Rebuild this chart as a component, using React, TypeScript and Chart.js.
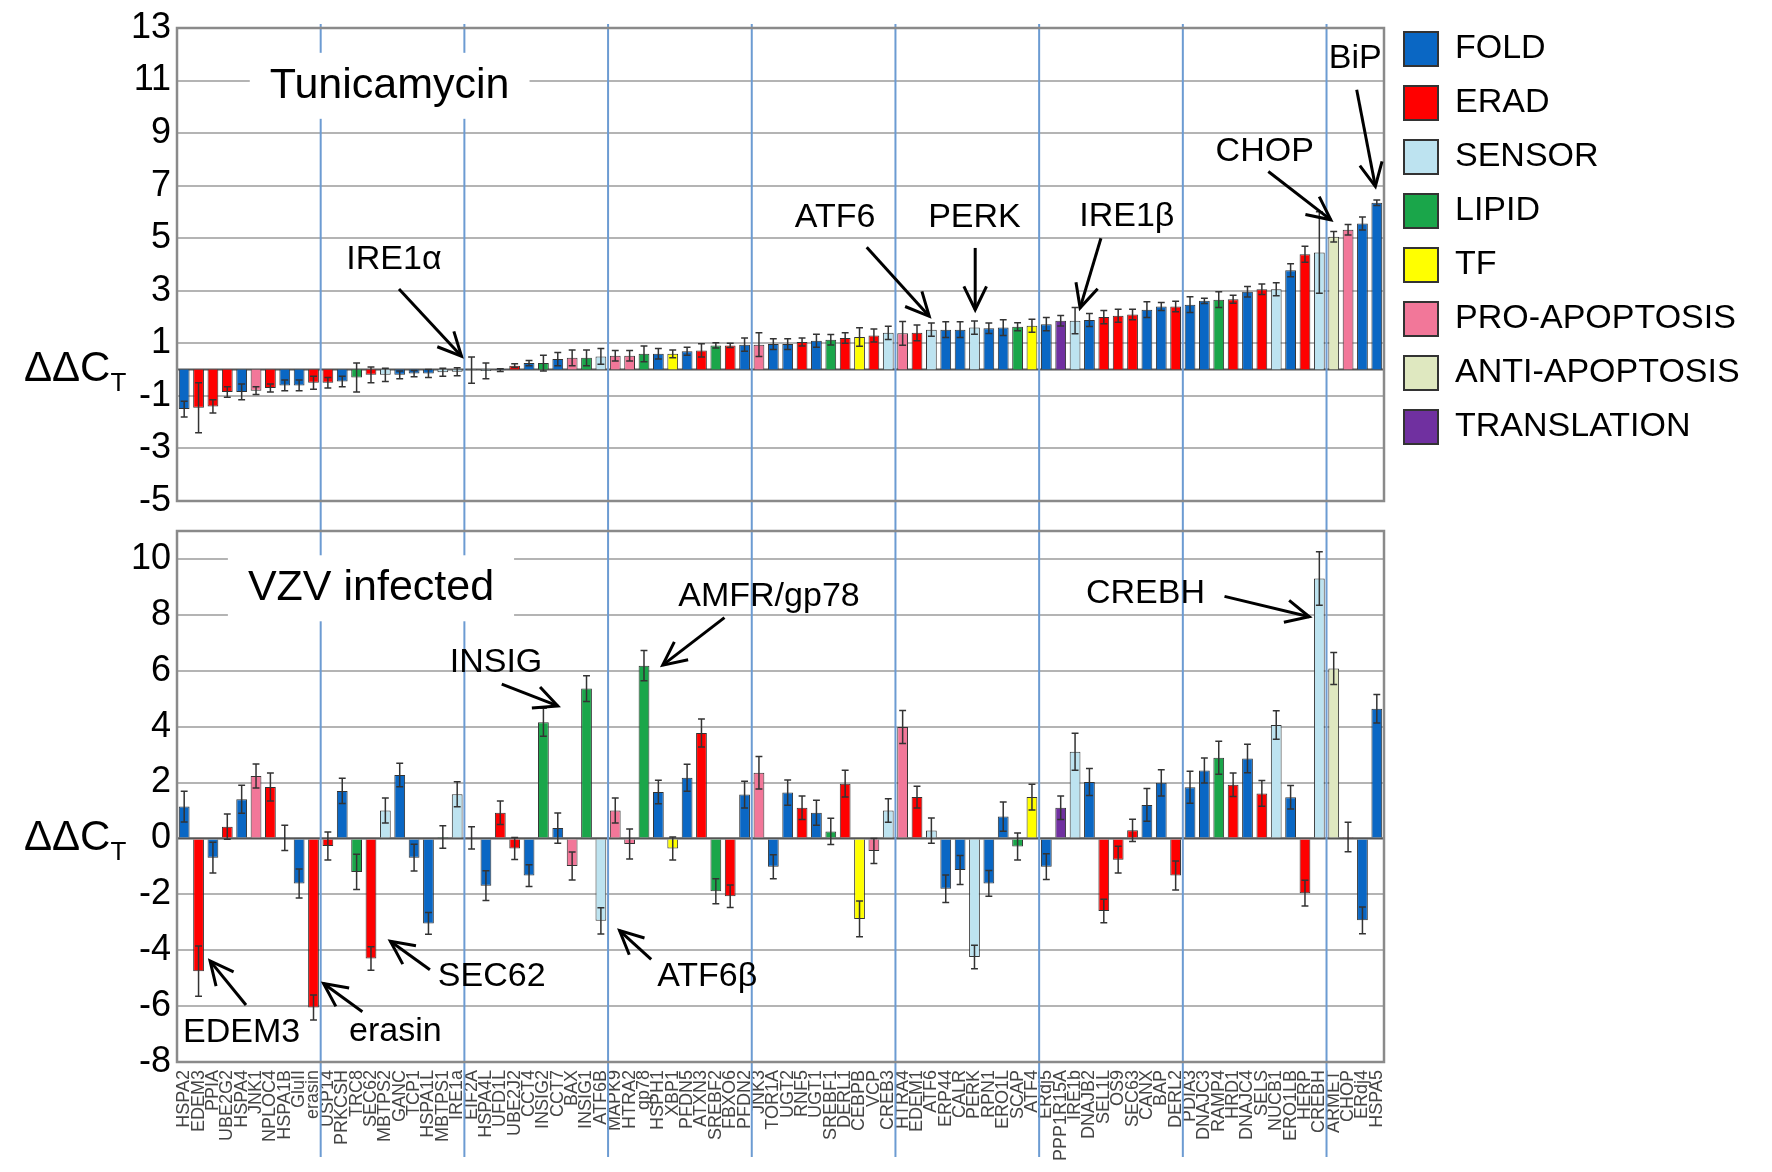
import { useEffect, useRef } from "react";
import { Chart, registerables } from "chart.js";

Chart.register(...registerables);

const FONT = "'Liberation Sans', Arial, sans-serif";
const W = 1772;
const TOP_H = 516;
const BOT_H = 656;
const AXIS_W = 177;
const PLOT_RIGHT = 1384;

// functional groups (legend order) and their colours
const groupCodes = ["F", "E", "S", "L", "T", "P", "A", "R"];
const groupNames = ["FOLD", "ERAD", "SENSOR", "LIPID", "TF", "PRO-APOPTOSIS", "ANTI-APOPTOSIS", "TRANSLATION"];
const groupColors = ["#0a67c4", "#ff0000", "#bde3f0", "#1aa64a", "#ffff00", "#f27799", "#dfe8c0", "#7030a0"];

// Tunicamycin panel (sorted by value, no labels)
const topValues = [
  -1.5, -1.45, -1.4, -0.85, -0.85, -0.8, -0.7, -0.6, -0.6, -0.5,
  -0.5, -0.45, -0.3, -0.2, -0.2, -0.2, -0.15, -0.15, -0.1, -0.08,
  -0.02, -0.05, -0.02, 0.15, 0.25, 0.25, 0.4, 0.45, 0.45, 0.5,
  0.53, 0.53, 0.6, 0.6, 0.6, 0.7, 0.73, 0.92, 0.92, 0.95,
  0.95, 0.97, 0.97, 1.05, 1.1, 1.14, 1.2, 1.24, 1.3, 1.4,
  1.38, 1.4, 1.52, 1.52, 1.52, 1.6, 1.57, 1.6, 1.63, 1.67,
  1.73, 1.86, 1.86, 1.89, 2.0, 2.05, 2.1, 2.28, 2.4, 2.4,
  2.47, 2.62, 2.66, 2.68, 2.96, 3.06, 3.06, 3.78, 4.39, 4.46,
  5.06, 5.32, 5.56, 6.35,
];
const topErrors = [
  0.3, 0.95, 0.25, 0.2, 0.3, 0.15, 0.15, 0.2, 0.2, 0.25,
  0.2, 0.2, 0.55, 0.3, 0.25, 0.15, 0.12, 0.15, 0.15, 0.15,
  0.5, 0.3, 0.05, 0.07, 0.1, 0.3, 0.25, 0.3, 0.3, 0.3,
  0.2, 0.2, 0.3, 0.2, 0.15, 0.15, 0.25, 0.1, 0.08, 0.25,
  0.45, 0.2, 0.2, 0.15, 0.25, 0.2, 0.2, 0.35, 0.25, 0.25,
  0.45, 0.3, 0.25, 0.3, 0.3, 0.25, 0.2, 0.3, 0.15, 0.25,
  0.25, 0.2, 0.5, 0.25, 0.25, 0.25, 0.2, 0.3, 0.15, 0.2,
  0.3, 0.1, 0.3, 0.15, 0.2, 0.2, 0.25, 0.25, 0.3, 1.55,
  0.2, 0.2, 0.25, 0.1,
];
const topGroups = (
  "FEEEFPEFFE" + "EFLESFFFSS" + "SSFEFLFPLS" + "PPLFTFELEF" + "PFFEFLETES" +
  "PESFFSFFLT" + "FRSFEEEFFE" + "FFLEFESFES" + "APFF"
).split("");

// VZV panel
const genes = [
  "HSPA2", "EDEM3", "PPIA", "UBE2G2", "HSPA4", "JNK1", "NPLOC4", "HSPA1B", "GluII", "erasin",
  "USP14", "PRKCSH", "TRC8", "SEC62", "MBTPS2", "GANC", "TCP1", "HSPA1L", "MBTPS1", "IRE1a",
  "EIF2A", "HSPA4L", "UFD1L", "UBE2J2", "CCT4", "INSIG2", "CCT7", "BAX", "INSIG1", "ATF6B",
  "MAPK9", "HTRA2", "gp78", "HSPH1", "XBP1", "PFDN5", "ATXN3", "SREBF2", "FBXO6", "PFDN2",
  "JNK3", "TOR1A", "UGT2", "RNF5", "UGT1", "SREBF1", "DERL1", "CEBPB", "VCP", "CREB3",
  "HTRA4", "EDEM1", "ATF6", "ERP44", "CALR", "PERK", "RPN1", "ERO1L", "SCAP", "ATF4",
  "ERdj5", "PPP1R15A", "IRE1b", "DNAJB2", "SEL1L", "OS9", "SEC63", "CANX", "BAP", "DERL2",
  "PDIA3", "DNAJC3", "RAMP4", "HRD1", "DNAJC4", "SELS", "NUCB1", "ERO1LB", "HERP", "CREBH",
  "ARMET", "CHOP", "ERdj4", "HSPA5",
];
const vzvValues = [
  1.14, -4.75, -0.69, 0.42, 1.4, 2.23, 1.84, 0.02, -1.61, -6.05,
  -0.27, 1.7, -1.2, -4.3, 1.0, 2.27, -0.69, -3.04, 0.05, 1.58,
  0.02, -1.69, 0.92, -0.36, -1.33, 4.16, 0.37, -0.99, 5.36, -2.95,
  1.0, -0.2, 6.18, 1.66, -0.36, 2.17, 3.77, -1.89, -2.07, 1.57,
  2.35, -1.01, 1.64, 1.1, 0.92, 0.25, 1.96, -2.88, -0.45, 1.0,
  3.99, 1.48, 0.28, -1.8, -1.13, -4.24, -1.61, 0.78, -0.29, 1.48,
  -1.01, 1.1, 3.1, 2.02, -2.6, -0.76, 0.29, 1.2, 1.99, -1.33,
  1.83, 2.43, 2.89, 1.92, 2.86, 1.61, 4.06, 1.47, -1.96, 9.3,
  6.08, 0.05, -2.93, 4.64,
];
const vzvErrors = [
  0.55, 0.9, 0.55, 0.45, 0.5, 0.43, 0.5, 0.45, 0.52, 0.45,
  0.5, 0.45, 0.63, 0.42, 0.45, 0.42, 0.48, 0.39, 0.4, 0.45,
  0.4, 0.53, 0.42, 0.39, 0.39, 0.5, 0.54, 0.5, 0.46, 0.47,
  0.45, 0.54, 0.54, 0.42, 0.41, 0.48, 0.5, 0.45, 0.4, 0.48,
  0.58, 0.43, 0.45, 0.42, 0.45, 0.47, 0.48, 0.64, 0.45, 0.42,
  0.59, 0.39, 0.45, 0.49, 0.52, 0.42, 0.46, 0.52, 0.48, 0.46,
  0.46, 0.42, 0.66, 0.48, 0.42, 0.48, 0.4, 0.59, 0.47, 0.52,
  0.57, 0.45, 0.59, 0.42, 0.51, 0.46, 0.51, 0.42, 0.46, 0.96,
  0.57, 0.53, 0.48, 0.51,
];
const vzvGroups = (
  "FEFEFPEFFE" + "EFLESFFFLS" + "RFEEFLFPLS" + "PPLFTFELEF" + "PFFEFLETPS" +
  "PESFFSFFLT" + "FRSFEEEFFE" + "FFLEFESFES" + "APFF"
).split("");

// annotations, in (category index, value) units
const topTitle = { text: "Tunicamycin", x: 14.3, y: 10.8 };
const topNotes = [
  { text: "IRE1α", x: 14.6, y: 4.18 },
  { text: "ATF6", x: 45.3, y: 5.78 },
  { text: "PERK", x: 55.0, y: 5.78 },
  { text: "IRE1β", x: 65.6, y: 5.83 },
  { text: "CHOP", x: 75.2, y: 8.3 },
  { text: "BiP", x: 81.5, y: 11.85 },
];
const topArrows = [
  [14.95, 3.07, 19.3, 0.51],
  [47.5, 4.66, 51.85, 2.03],
  [55.05, 4.63, 55.05, 2.28],
  [63.8, 5.0, 62.35, 2.35],
  [75.45, 7.54, 79.8, 5.7],
  [81.6, 10.65, 82.9, 6.97],
];
const vzvTitle = { text: "VZV infected", x: 13.0, y: 8.95 };
const vzvNotes = [
  { text: "EDEM3", x: 4.0, y: -6.95 },
  { text: "erasin", x: 14.7, y: -6.9 },
  { text: "SEC62", x: 21.4, y: -4.95 },
  { text: "ATF6β", x: 36.4, y: -4.95 },
  { text: "INSIG", x: 21.7, y: 6.3 },
  { text: "AMFR/gp78", x: 40.7, y: 8.65 },
  { text: "CREBH", x: 66.9, y: 8.77 },
];
const vzvArrows = [
  [4.3, -5.96, 1.8, -4.38],
  [12.4, -6.2, 9.7, -5.19],
  [17.1, -4.7, 14.35, -3.68],
  [32.5, -4.33, 30.3, -3.3],
  [22.1, 5.52, 26.0, 4.74],
  [37.6, 7.9, 33.3, 6.2],
  [72.4, 8.66, 78.3, 7.93],
];

const colorOf = (code: string) => groupColors[groupCodes.indexOf(code)];

function drawArrow(ctx: CanvasRenderingContext2D, x1: number, y1: number, x2: number, y2: number) {
  ctx.beginPath();
  ctx.moveTo(x1, y1);
  ctx.lineTo(x2, y2);
  ctx.stroke();
  const ang = Math.atan2(y2 - y1, x2 - x1);
  const L = 26;
  const s = 0.45;
  ctx.beginPath();
  ctx.moveTo(x2 - L * Math.cos(ang - s), y2 - L * Math.sin(ang - s));
  ctx.lineTo(x2, y2);
  ctx.lineTo(x2 - L * Math.cos(ang + s), y2 - L * Math.sin(ang + s));
  ctx.stroke();
}

const panelDecor = {
  id: "panelDecor",
  beforeDatasetsDraw(chart: any, _args: any, o: any) {
    const { ctx, chartArea: a } = chart;
    const x = chart.scales.x;
    const y = chart.scales.y;
    ctx.save();
    const y0 = y.getPixelForValue(0);
    ctx.strokeStyle = "#555";
    ctx.lineWidth = 2;
    ctx.beginPath();
    ctx.moveTo(a.left, y0);
    ctx.lineTo(a.right, y0);
    ctx.stroke();

    ctx.strokeStyle = "#6c9bd2";
    ctx.lineWidth = 2;
    const n = chart.data.labels.length;
    for (let k = 10; k < n; k += 10) {
      const px = (x.getPixelForValue(k - 1) + x.getPixelForValue(k)) / 2;
      ctx.beginPath();
      ctx.moveTo(px, o.lineTop);
      ctx.lineTo(px, o.lineBottom);
      ctx.stroke();
    }

    const t = o.title;
    ctx.font = `43px ${FONT}`;
    const tw = ctx.measureText(t.text).width;
    const cx = x.getPixelForValue(t.x);
    const cy = y.getPixelForValue(t.y);
    ctx.fillStyle = "#fff";
    ctx.fillRect(cx - tw / 2 - 20, cy - 33, tw + 40, 66);
    ctx.fillStyle = "#000";
    ctx.textAlign = "center";
    ctx.textBaseline = "middle";
    ctx.fillText(t.text, cx, cy);
    ctx.restore();
  },
  afterDatasetsDraw(chart: any, _args: any, o: any) {
    const { ctx, chartArea: a } = chart;
    const y = chart.scales.y;
    const meta = chart.getDatasetMeta(0);
    const vals = chart.data.datasets[0].data;
    ctx.save();
    ctx.strokeStyle = "#333";
    ctx.lineWidth = 1.5;
    meta.data.forEach((bar: any, i: number) => {
      const v = vals[i];
      const e = o.errors[i];
      const y1 = y.getPixelForValue(v + e);
      const y2 = y.getPixelForValue(v - e);
      const c = bar.width * 0.32;
      ctx.beginPath();
      ctx.moveTo(bar.x, y1);
      ctx.lineTo(bar.x, y2);
      ctx.moveTo(bar.x - c, y1);
      ctx.lineTo(bar.x + c, y1);
      ctx.moveTo(bar.x - c, y2);
      ctx.lineTo(bar.x + c, y2);
      ctx.stroke();
    });
    ctx.strokeStyle = "#8a8a8a";
    ctx.lineWidth = 2.5;
    ctx.strokeRect(a.left, a.top, a.right - a.left, a.bottom - a.top);
    ctx.restore();
  },
  afterDraw(chart: any, _args: any, o: any) {
    const { ctx } = chart;
    const x = chart.scales.x;
    const y = chart.scales.y;
    ctx.save();
    ctx.fillStyle = "#000";
    ctx.textAlign = "center";
    ctx.textBaseline = "middle";
    ctx.font = `34px ${FONT}`;
    o.notes.forEach((nt: any) => {
      ctx.fillText(nt.text, x.getPixelForValue(nt.x), y.getPixelForValue(nt.y));
    });
    ctx.strokeStyle = "#000";
    ctx.lineWidth = 3;
    o.arrows.forEach((ar: number[]) => {
      drawArrow(ctx, x.getPixelForValue(ar[0]), y.getPixelForValue(ar[1]), x.getPixelForValue(ar[2]), y.getPixelForValue(ar[3]));
    });
    const y0 = y.getPixelForValue(0);
    ctx.textAlign = "left";
    ctx.font = `42px ${FONT}`;
    ctx.fillText("ΔΔC", 24, y0);
    const w = ctx.measureText("ΔΔC").width;
    ctx.font = `26px ${FONT}`;
    ctx.fillText("T", 24 + w, y0 + 14);
    ctx.restore();
  },
};

const yTicks = { stepSize: 2, color: "#000", padding: 6, font: { family: FONT, size: 36 } };
const yGrid = { color: "#b4b4b4", lineWidth: 2, drawTicks: false };

export default function App() {
  const topRef = useRef<HTMLCanvasElement>(null);
  const botRef = useRef<HTMLCanvasElement>(null);

  useEffect(() => {
    document.body.style.margin = "0";
    if (!topRef.current || !botRef.current) return;

    const topConfig: any = {
      type: "bar",
      data: {
        labels: topValues.map((_, i) => String(i + 1)),
        datasets: [
          {
            data: topValues,
            backgroundColor: topGroups.map(colorOf),
            borderColor: "#333",
            borderWidth: 1,
            barPercentage: 0.75,
            categoryPercentage: 1,
          },
        ],
      },
      options: {
        animation: false,
        responsive: false,
        layout: { padding: { left: 0, top: 12, bottom: 15, right: 0 } },
        scales: {
          x: { display: false, offset: true },
          y: {
            min: -5,
            max: 13,
            ticks: yTicks,
            grid: yGrid,
            border: { display: false },
            afterFit: (s: any) => {
              s.width = AXIS_W;
              s.paddingTop = 28;
              s.paddingBottom = 0;
            },
          },
        },
        plugins: {
          tooltip: { enabled: false },
          legend: {
            display: true,
            position: "right",
            align: "start",
            onClick: () => {},
            labels: {
              boxWidth: 34,
              boxHeight: 34,
              padding: 20,
              color: "#000",
              font: { family: FONT, size: 34 },
              generateLabels: () =>
                groupNames.map((name, i) => ({
                  text: name,
                  fillStyle: groupColors[i],
                  strokeStyle: "#333",
                  lineWidth: 2,
                  hidden: false,
                  datasetIndex: 0,
                })),
            },
          },
          panelDecor: { errors: topErrors, title: topTitle, notes: topNotes, arrows: topArrows, lineTop: 24, lineBottom: TOP_H },
        },
      },
      plugins: [panelDecor],
    };
    const top = new Chart(topRef.current, topConfig);
    const lw = (top as any).legend ? (top as any).legend.width : 0;
    topConfig.options.layout.padding.right = Math.max(0, W - PLOT_RIGHT - lw);
    top.update();
    const rightPad = W - top.chartArea.right;

    const bottom = new Chart(botRef.current, {
      type: "bar",
      data: {
        labels: genes,
        datasets: [
          {
            data: vzvValues,
            backgroundColor: vzvGroups.map(colorOf),
            borderColor: "#333",
            borderWidth: 1,
            barPercentage: 0.75,
            categoryPercentage: 1,
          },
        ],
      },
      options: {
        animation: false,
        responsive: false,
        layout: { padding: { left: 0, top: 0, bottom: 0, right: rightPad } },
        scales: {
          x: {
            offset: true,
            grid: { display: false, drawTicks: false },
            border: { display: false },
            ticks: {
              autoSkip: false,
              maxRotation: 90,
              minRotation: 90,
              padding: 8,
              color: "#444",
              font: { family: FONT, size: 18 },
            },
            afterFit: (s: any) => {
              s.height = 110;
              s.paddingLeft = 0;
              s.paddingRight = 0;
            },
          },
          y: {
            min: -8,
            max: 11,
            ticks: { ...yTicks, includeBounds: false },
            grid: yGrid,
            border: { display: false },
            afterFit: (s: any) => {
              s.width = AXIS_W;
              s.paddingTop = 15;
              s.paddingBottom = 0;
            },
          },
        },
        plugins: {
          tooltip: { enabled: false },
          legend: { display: false },
          panelDecor: { errors: vzvErrors, title: vzvTitle, notes: vzvNotes, arrows: vzvArrows, lineTop: 0, lineBottom: 641 },
        },
      } as any,
      plugins: [panelDecor as any],
    });

    return () => {
      top.destroy();
      bottom.destroy();
    };
  }, []);

  return (
    <div style={{ position: "relative", width: W, height: TOP_H + BOT_H, background: "#fff" }}>
      <canvas ref={topRef} width={W} height={TOP_H} style={{ position: "absolute", left: 0, top: 0, display: "block" }} />
      <canvas ref={botRef} width={W} height={BOT_H} style={{ position: "absolute", left: 0, top: TOP_H, display: "block" }} />
    </div>
  );
}
